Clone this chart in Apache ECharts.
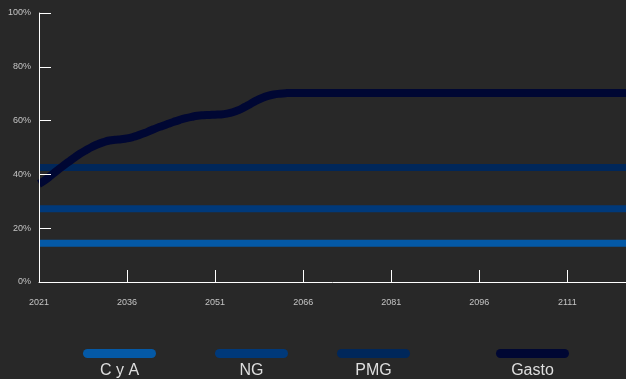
<!DOCTYPE html>
<html>
<head>
<meta charset="utf-8">
<script src="https://cdn.jsdelivr.net/npm/echarts@6/dist/echarts.min.js"></script>
<style>
html,body{margin:0;padding:0;background:#282828;}
#c{width:626px;height:379px;}
</style>
</head>
<body>
<div id="c"></div>
<script>
// ---- data ----
const seriesNames = ['C y A', 'NG', 'PMG', 'Gasto'];
const xTickLabels = [2021, 2036, 2051, 2066, 2081, 2096, 2111];
const yTickLabels = [0, 20, 40, 60, 80, 100];
const cyaData = [[2021, 14.4], [2121, 14.4]];
const ngData = [[2021, 27.2], [2121, 27.2]];
const pmgData = [[2021, 42.6], [2121, 42.6]];
const gastoYears = [2021, 2022, 2023, 2024, 2025, 2026, 2027, 2028, 2029, 2030,
  2031, 2032, 2033, 2034, 2035, 2036, 2037, 2038, 2039, 2040,
  2041, 2042, 2043, 2044, 2045, 2046, 2047, 2048, 2049, 2050,
  2051, 2052, 2053, 2054, 2055, 2056, 2057, 2058, 2059, 2060,
  2061, 2062, 2063, 2064, 2121];
const gastoValues = [36.5, 37.8, 39.5, 41.3, 43.0, 44.6, 46.2, 47.7, 49.0, 50.2,
  51.2, 52.0, 52.6, 52.9, 53.1, 53.4, 53.9, 54.6, 55.4, 56.3,
  57.2, 58.0, 58.8, 59.6, 60.3, 60.9, 61.4, 61.8, 62.0, 62.1,
  62.2, 62.3, 62.6, 63.1, 63.9, 65.0, 66.2, 67.4, 68.4, 69.2,
  69.7, 70.0, 70.2, 70.3, 70.3];

// ---- styles ----
const colors = ['#0459a6', '#00397a', '#00275a', '#000733'];
const legendLefts = [83, 215, 337, 496];
const FONT = 'Liberation Sans, Arial, sans-serif';
const pill = 'path://M4.5,0 L68.5,0 A4.5,4.5 0 0 1 68.5,9 L4.5,9 A4.5,4.5 0 0 1 4.5,0 Z';

const gastoData = gastoYears.map((y, i) => [y, gastoValues[i]]);
const allData = [cyaData, ngData, pmgData, gastoData];

const chart = echarts.init(document.getElementById('c'), null, {renderer: 'canvas'});
chart.setOption({
  backgroundColor: '#282828',
  animation: false,
  grid: {left: 39, right: 0, top: 13, bottom: 97, containLabel: false},
  xAxis: {
    type: 'value', min: 2021, max: 2121, z: 10,
    axisLine: {show: true, lineStyle: {color: '#ffffff', width: 1}},
    axisTick: {show: true, inside: true, length: 12, lineStyle: {color: '#ffffff', width: 1},
      customValues: xTickLabels.slice(1)},
    axisLabel: {color: '#c4c4c4', fontSize: 9, fontFamily: FONT, margin: 16,
      customValues: xTickLabels, formatter: v => String(v)},
    splitLine: {show: false}
  },
  yAxis: {
    type: 'value', min: 0, max: 100, interval: 20, z: 10,
    axisLine: {show: true, lineStyle: {color: '#ffffff', width: 1}},
    axisTick: {show: true, inside: true, length: 12, lineStyle: {color: '#ffffff', width: 1}},
    axisLabel: {color: '#c4c4c4', fontSize: 9, fontFamily: FONT, margin: 8, formatter: '{value}%'},
    splitLine: {show: false}
  },
  legend: seriesNames.map((n, i) => ({
    data: [n], left: legendLefts[i], top: 349, padding: 0,
    itemWidth: 73, itemHeight: 9, icon: pill,
    formatter: '{t|{name}}',
    textStyle: {color: '#dedede', fontSize: 16, fontFamily: FONT, padding: [35, 0, 0, -78],
      rich: {t: {width: 73, align: 'center', color: '#dedede', fontSize: 16, fontFamily: FONT}}}
  })),
  series: seriesNames.map((n, i) => ({
    name: n, type: 'line', data: allData[i],
    smooth: i === 3 ? 0.5 : false,
    showSymbol: false, symbol: 'none',
    color: colors[i],
    lineStyle: {color: colors[i], width: i === 3 ? 8 : 7, cap: 'butt', join: 'round'},
    z: 2 + i
  }))
});
</script>
</body>
</html>
